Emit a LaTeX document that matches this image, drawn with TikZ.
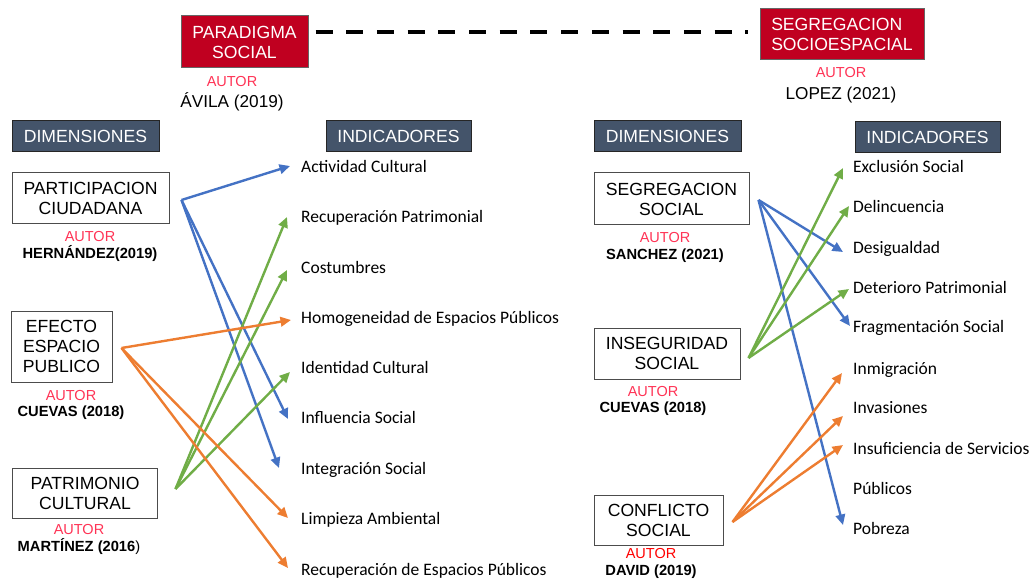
\documentclass[tikz,border=0pt]{standalone}
\usepackage{fontspec}
\setmainfont{Liberation Sans}
\newfontfamily\calib{Carlito}
\usetikzlibrary{arrows.meta}
\definecolor{redbox}{HTML}{C00020}
\definecolor{slate}{HTML}{44546A}
\definecolor{autred}{HTML}{FF3355}
\definecolor{cblue}{HTML}{4472C4}
\definecolor{corange}{HTML}{ED7D31}
\definecolor{cgreen}{HTML}{70AD47}
\begin{document}
\begin{tikzpicture}[x=1pt,y=-1pt,
 boxtxt/.style={font=\fontsize{17.6}{20}\selectfont, align=center, inner sep=0pt},
 titlebox/.style={boxtxt, fill=redbox, draw=black!60, line width=1pt, text=white},
 headbox/.style={boxtxt, fill=slate, draw=black!85, line width=1pt, text=white},
 dimbox/.style={boxtxt, fill=white, draw=black!70, line width=1pt},
 autlab/.style={font=\fontsize{14.5}{16}\selectfont, text=autred, inner sep=0pt},
 authname/.style={font=\fontsize{14.7}{16}\selectfont\bfseries, inner sep=0pt},
 bigname/.style={font=\fontsize{17.2}{20}\selectfont, inner sep=0pt},
 indic/.style={font=\calib\fontsize{17.5}{20}\selectfont, anchor=base west, inner sep=0pt},
 link/.style={line width=2.4pt, -{Triangle[length=10.5pt,width=9.5pt]}},
 dashlink/.style={line width=4pt, dash pattern=on 17pt off 13.7pt},
]
\useasboundingbox (0,0) rectangle (1034,580);

% title boxes
\node[titlebox, minimum width=127, minimum height=52] (ps) at (244.5,42) {PARADIGMA\\SOCIAL};
\node[titlebox, minimum width=164, minimum height=51, align=left] (ss2) at (842,34.5) {SEGREGACION\\SOCIOESPACIAL};
\coordinate (dL) at ([shift={(7,-10)}]ps.east);
\coordinate (dR) at ([shift={(-12,-2.5)}]ss2.west);
\draw[dashlink] (dL) -- (dR);

\node[autlab] (a0) at (232,82) {AUTOR};
\node[bigname] (n0) at (232,102) {ÁVILA (2019)};
\node[autlab] (a1) at (841,73) {AUTOR};
\node[bigname] (n1) at (841,95) {LOPEZ (2021)};

% headers
\node[headbox, minimum width=147, minimum height=31] (hd1) at (85.5,136.5) {DIMENSIONES};
\node[headbox, minimum width=145, minimum height=31] (hi1) at (398.5,136.5) {INDICADORES};
\node[headbox, minimum width=147, minimum height=31] (hd2) at (667.5,136.5) {DIMENSIONES};
\node[headbox, minimum width=145, minimum height=31] (hi2) at (927.5,137.5) {INDICADORES};

% dimension boxes left
\node[dimbox, minimum width=157, minimum height=51] (pc) at (90.5,198.5) {PARTICIPACION\\CIUDADANA};
\node[autlab] (apc) at (90,237) {AUTOR};
\node[authname] (npc) at (90,254) {HERNÁNDEZ(2019)};

\node[dimbox, minimum width=101, minimum height=71] (ep) at (61.5,346.5) {EFECTO\\ESPACIO\\PUBLICO};
\node[autlab] (aep) at (71,396) {AUTOR};
\node[authname] (nep) at (71,413) {CUEVAS (2018)};

\node[dimbox, minimum width=145, minimum height=50] (pat) at (85,493) {PATRIMONIO\\CULTURAL};
\node[autlab] (apat) at (79,530) {AUTOR};
\node[authname] (npat) at (79,547) {MARTÍNEZ (2016\textmd{)}};

% dimension boxes right
\node[dimbox, minimum width=155, minimum height=52] (sgs) at (671.5,199) {SEGREGACION\\SOCIAL};
\node[autlab] (asgs) at (665,238) {AUTOR};
\node[authname] (nsgs) at (665,256) {SANCHEZ (2021)};

\node[dimbox, minimum width=146, minimum height=51] (ins) at (667,353.5) {INSEGURIDAD\\SOCIAL};
\node[autlab] (ains) at (653,392) {AUTOR};
\node[authname] (nins) at (653,409) {CUEVAS (2018)};

\node[dimbox, minimum width=129, minimum height=50] (cs) at (658.5,520) {CONFLICTO\\SOCIAL};
\node[autlab, text=red] (acs) at (651,554) {AUTOR};
\node[authname] (ncs) at (651,572) {DAVID (2019)};

% indicators left
\node[indic] (ac) at (301,172.5) {Actividad Cultural};
\node[indic] (rp) at (301,222.5) {Recuperación Patrimonial};
\node[indic] (co) at (301,273.5) {Costumbres};
\node[indic] (ho) at (301,323.5) {Homogeneidad de Espacios Públicos};
\node[indic] (id) at (301,373.5) {Identidad Cultural};
\node[indic] (inf) at (301,423.5) {Influencia Social};
\node[indic] (ig) at (301,474.5) {Integración Social};
\node[indic] (li) at (301,524.5) {Limpieza Ambiental};
\node[indic] (re) at (301,575.5) {Recuperación de Espacios Públicos};

% indicators right
\node[indic] (ex) at (853,172.5) {Exclusión Social};
\node[indic] (de) at (853,212.5) {Delincuencia};
\node[indic] (dg) at (853,253.5) {Desigualdad};
\node[indic] (dp) at (853,293.5) {Deterioro Patrimonial};
\node[indic] (fs) at (853,332.5) {Fragmentación Social};
\node[indic] (im) at (853,374.5) {Inmigración};
\node[indic] (iv) at (853,413.5) {Invasiones};
\node[indic] (isf) at (853,454.5) {Insuficiencia de Servicios};
\node[indic] (pu) at (853,494.5) {Públicos};
\node[indic] (po) at (853,534.5) {Pobreza};

% origins
\coordinate (pcO) at ([shift={(12,1.5)}]pc.east);
\coordinate (epO) at ([shift={(9,1.5)}]ep.east);
\coordinate (patO) at ([shift={(17.5,-4)}]pat.east);
\coordinate (sgsO) at ([shift={(9,1)}]sgs.east);
\coordinate (insO) at ([shift={(8,4.5)}]ins.east);
\coordinate (csO) at ([shift={(9,2)}]cs.east);

% left links
\draw[link, cblue] (pcO) -- ([shift={(-11,-6.5)}]ac.base west);
\draw[link, cblue] (pcO) -- ([shift={(-13,-4.5)}]inf.base west);
\draw[link, cblue] (pcO) -- ([shift={(-22,-6.5)}]ig.base west);
\draw[link, cgreen] (patO) -- ([shift={(-14,-5.5)}]rp.base west);
\draw[link, cgreen] (patO) -- ([shift={(-14,-3.5)}]co.base west);
\draw[link, cgreen] (patO) -- ([shift={(-11,-1.5)}]id.base west);
\draw[link, corange] (epO) -- ([shift={(-10,-3.5)}]ho.base west);
\draw[link, corange] (epO) -- ([shift={(-13,-6.5)}]li.base west);
\draw[link, corange] (epO) -- ([shift={(-13,-7.5)}]re.base west);

% right links
\draw[link, cblue] (sgsO) -- ([shift={(-10,-1.5)}]dg.base west);
\draw[link, cblue] (sgsO) -- ([shift={(-3,-6.5)}]fs.base west);
\draw[link, cblue] (sgsO) -- ([shift={(-10,-9.5)}]po.base west);
\draw[link, cgreen] (insO) -- ([shift={(-10,-4.5)}]ex.base west);
\draw[link, cgreen] (insO) -- ([shift={(-4,-6.5)}]de.base west);
\draw[link, cgreen] (insO) -- ([shift={(-4,-4.5)}]dp.base west);
\draw[link, corange] (csO) -- ([shift={(-11,-1.5)}]im.base west);
\draw[link, corange] (csO) -- ([shift={(-10,2.5)}]iv.base west);
\draw[link, corange] (csO) -- ([shift={(-10,-9.5)}]isf.base west);
\end{tikzpicture}
\end{document}
